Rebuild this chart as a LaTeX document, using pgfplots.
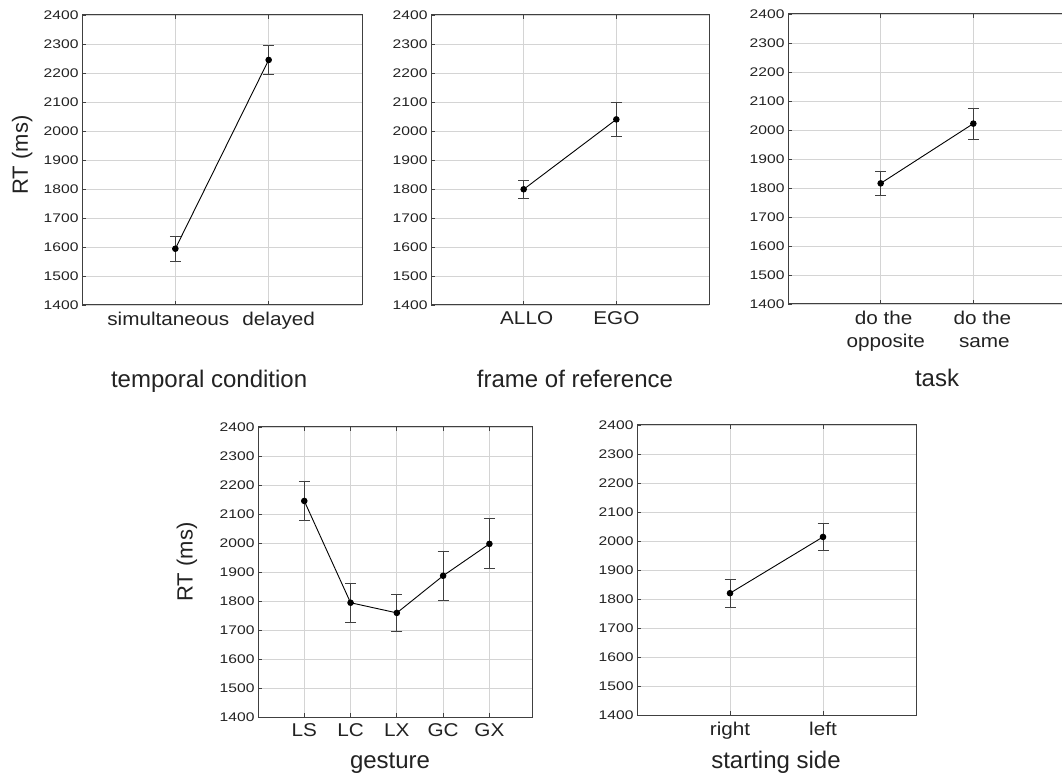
\documentclass[border=0pt]{standalone}
\usepackage{fontspec}
\setmainfont{Liberation Sans}
\newfontfamily\tickfont[FakeStretch=1.25]{Liberation Sans}
\newfontfamily\catfont[FakeStretch=1.12]{Liberation Sans}
\usepackage{pgfplots}
\pgfplotsset{compat=1.18}
\definecolor{axisgray}{HTML}{404040}
\definecolor{gridgray}{HTML}{D4D4D4}
\definecolor{textgray}{HTML}{222222}

\pgfplotsset{
  rtpanel/.style={
    scale only axis, anchor=south west, height=290bp,
    ymin=1400, ymax=2400, ytick={1400,1500,...,2400},
    xtick=data,
    grid=major, grid style={draw=gridgray, line width=0.9bp},
    axis line style={draw=axisgray, line width=1bp},
    tick align=inside, major tick length=4bp, ytick pos=left, xtick pos=both,
    tick style={draw=axisgray, line width=0.8bp},
    /pgf/number format/assume math mode=true,
    /pgf/number format/1000 sep={},
    y tick label style={font=\tickfont\fontsize{12.5bp}{14bp}\selectfont, text=textgray},
    x tick label style={font=\catfont\fontsize{18.5bp}{23bp}\selectfont, text=textgray, align=center, yshift=-3.5bp},
    xlabel style={font=\fontsize{24bp}{28bp}\selectfont, text=textgray, anchor=base},
    ylabel style={font=\fontsize{22bp}{26bp}\selectfont, text=textgray, anchor=center},
  },
  rtline/.style={
    color=black, line width=0.9bp, mark=*, mark size=2.8bp,
    mark options={fill=black, draw=black},
    error bars/.cd, y dir=both, y explicit,
    error bar style={line width=0.9bp, color=axisgray},
    error mark options={rotate=90, mark size=5.5bp, line width=0.9bp, color=axisgray},
  },
}

\begin{document}
\begin{tikzpicture}
% temporal condition
\begin{axis}[rtpanel, at={(82bp,473bp)}, width=280bp, xmin=0, xmax=3,
  xticklabels={simultaneous\hspace*{14bp}, \hspace*{20bp}delayed},
  xlabel={temporal condition}, xlabel style={at={(axis description cs:0.454,-0.286)}},
  ylabel={RT (ms)}, ylabel style={at={(axis description cs:-0.214,0.517)}}]
\addplot[rtline] table[x=x, y=y, y error=e] {
x y e
1 1594 44
2 2245 51
};
\end{axis}
% frame of reference
\begin{axis}[rtpanel, at={(431bp,473bp)}, width=278bp, xmin=0, xmax=3,
  xticklabels={\hspace*{6bp}ALLO, EGO},
  xlabel={frame of reference}, xlabel style={at={(axis description cs:0.518,-0.286)}}]
\addplot[rtline] table[x=x, y=y, y error=e] {
x y e
1 1799 30
2 2040 60
};
\end{axis}
% task
\begin{axis}[rtpanel, at={(788bp,474bp)}, width=278bp, xmin=0, xmax=3,
  xticklabels={{\hspace*{6bp}do the\\\hspace*{10bp}opposite}, {\hspace*{18bp}do the\\\hspace*{22bp}same}},
  xlabel={task}, xlabel style={at={(axis description cs:0.536,-0.286)}}]
\addplot[rtline] table[x=x, y=y, y error=e] {
x y e
1 1816 41
2 2022 53
};
\end{axis}
% gesture
\begin{axis}[rtpanel, at={(258bp,61bp)}, width=274bp, xmin=0, xmax=5.92,
  xticklabels={LS, LC, LX, GC, GX},
  xlabel={gesture}, xlabel style={at={(axis description cs:0.482,-0.179)}},
  ylabel={RT (ms)}, ylabel style={at={(axis description cs:-0.259,0.534)}}]
\addplot[rtline] table[x=x, y=y, y error=e] {
x y e
1 2145 68
2 1794 67
3 1759 63
4 1887 85
5 1997 86
};
\end{axis}
% starting side
\begin{axis}[rtpanel, at={(637bp,63bp)}, width=279bp, xmin=0, xmax=3,
  xticklabels={right, left},
  xlabel={starting side}, xlabel style={at={(axis description cs:0.498,-0.186)}}]
\addplot[rtline] table[x=x, y=y, y error=e] {
x y e
1 1820 48
2 2014 47
};
\end{axis}
\pgfresetboundingbox
\path[use as bounding box] (0bp,0bp) rectangle (1062bp,778bp);
\end{tikzpicture}
\end{document}
